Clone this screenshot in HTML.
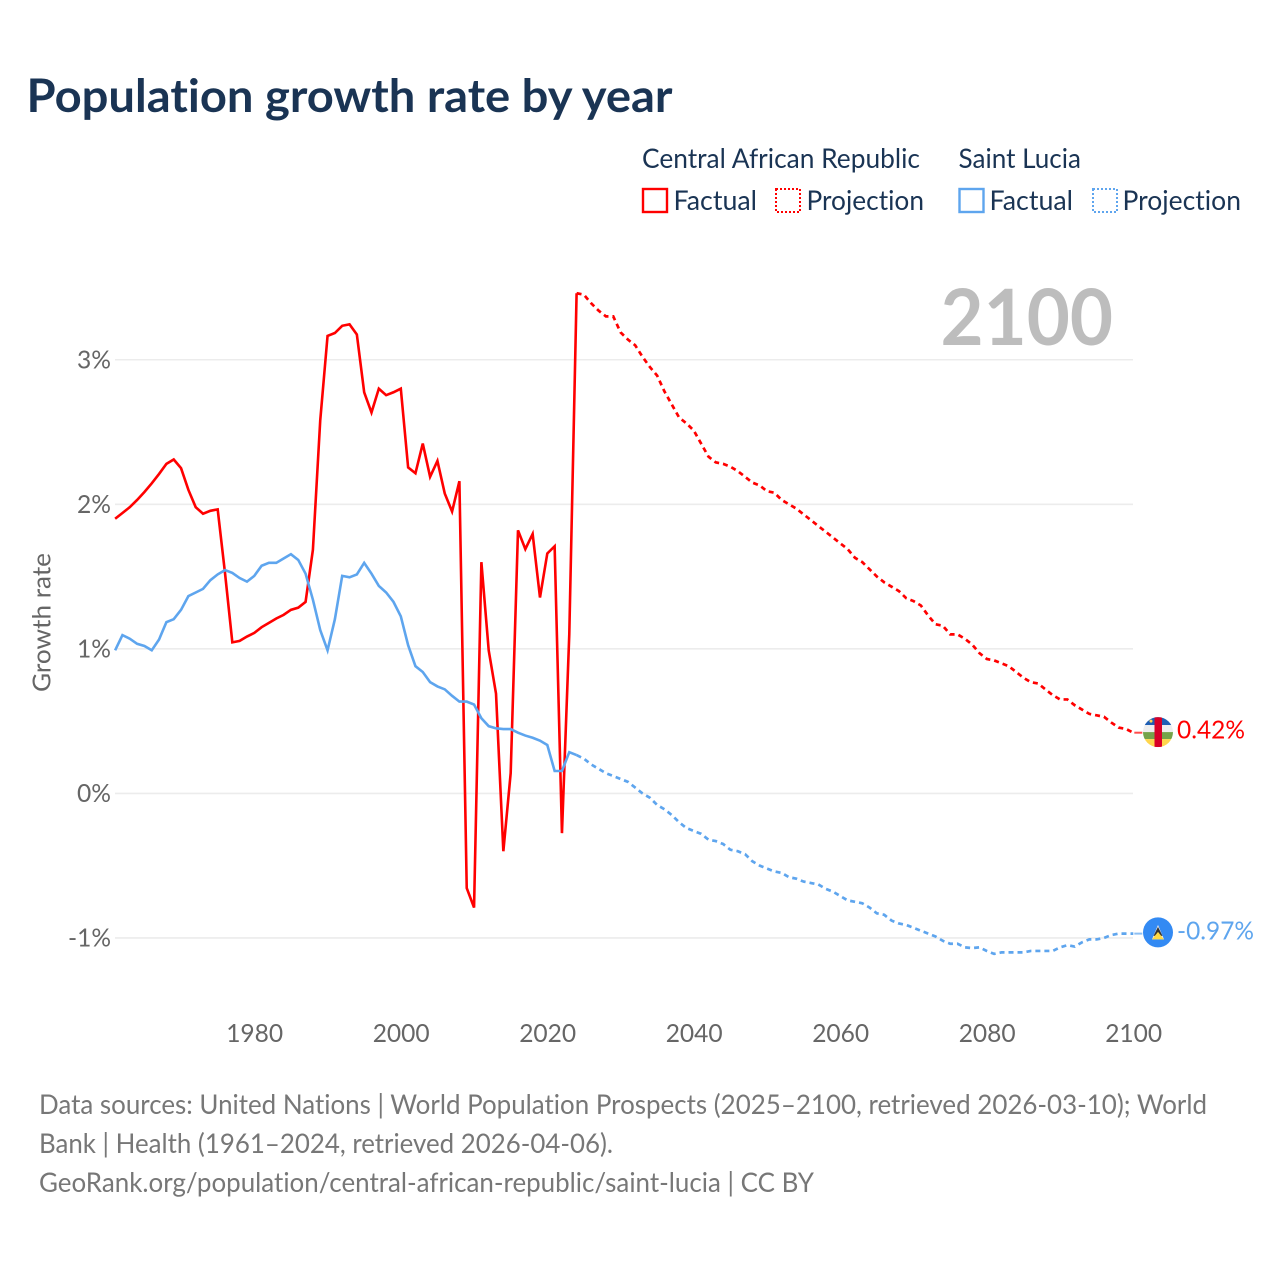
<!DOCTYPE html>
<html lang="en">
<head>
<meta charset="utf-8">
<title>Population growth rate by year</title>
<style>
html,body{margin:0;padding:0;background:#fff;width:1280px;height:1280px;overflow:hidden}
svg{display:block}
text{font-family:"Lato","Carlito","Liberation Sans",sans-serif;font-variant-ligatures:none}
</style>
</head>
<body>
<svg id="chart" xmlns="http://www.w3.org/2000/svg" width="1280" height="1280" viewBox="0 0 1280 1280">
  <rect width="1280" height="1280" fill="#fff"/>
  <text x="26.5" y="112" font-size="46" font-weight="700" fill="#1a3454" textLength="646" lengthAdjust="spacingAndGlyphs">Population growth rate by year</text>

  <g font-size="27" fill="#1a3454">
    <text x="642" y="168" textLength="278" lengthAdjust="spacingAndGlyphs">Central African Republic</text>
    <text x="958.5" y="168" textLength="122.5" lengthAdjust="spacingAndGlyphs">Saint Lucia</text>
    <rect x="643" y="189" width="24" height="23" fill="none" stroke="#ff0000" stroke-width="2.4"/>
    <text x="673.5" y="210" textLength="83.5" lengthAdjust="spacingAndGlyphs">Factual</text>
    <rect x="776" y="189" width="24" height="23" fill="none" stroke="#ff0000" stroke-width="2" stroke-dasharray="2 2"/>
    <text x="806.5" y="210" textLength="117.5" lengthAdjust="spacingAndGlyphs">Projection</text>
    <rect x="959.5" y="189" width="24" height="23" fill="none" stroke="#5ea5ee" stroke-width="2.4"/>
    <text x="989.5" y="210" textLength="83.5" lengthAdjust="spacingAndGlyphs">Factual</text>
    <rect x="1093" y="189" width="24" height="23" fill="none" stroke="#5ea5ee" stroke-width="2" stroke-dasharray="2 2"/>
    <text x="1122.5" y="210" textLength="118.5" lengthAdjust="spacingAndGlyphs">Projection</text>
  </g>

  <g id="grid"></g>
  <g id="yticks"></g>
  <g id="xticks"></g>
  <text transform="translate(50.5,622.5) rotate(-90)" text-anchor="middle" font-size="25" fill="#666" textLength="139" lengthAdjust="spacingAndGlyphs">Growth rate</text>

  <text x="940.5" y="345" font-size="78" font-weight="700" fill="#bdbdbd" textLength="172.5" lengthAdjust="spacingAndGlyphs">2100</text>

  <g id="series"></g>

  <defs>
    <clipPath id="flag-clip-car"><circle id="car-clip-circle" cx="1158" cy="732" r="15"/></clipPath>
  </defs>
  <g id="flag-car">
    <g clip-path="url(#flag-clip-car)">
      <rect x="1143" y="717" width="30" height="8" fill="#1f5fb4"/>
      <rect x="1143" y="725" width="30" height="7" fill="#eeeeee"/>
      <rect x="1143" y="732" width="30" height="7" fill="#75a34a"/>
      <rect x="1143" y="739" width="30" height="8" fill="#ffd64d"/>
      <rect x="1154.5" y="717" width="7.5" height="30" fill="#d80027"/>
      <circle cx="1151" cy="721" r="1.5" fill="#ffd64d"/>
    </g>
  </g>
  <g id="flag-lucia">
    <circle cx="1158" cy="932.5" r="15" fill="#338af3"/>
    <polygon points="1158,925 1164,939.5 1152,939.5" fill="#f0f0f0"/>
    <polygon points="1158,927 1162.5,936 1153.5,936" fill="#333333"/>
    <polygon points="1158,932 1164,939.5 1152,939.5" fill="#ffda44"/>
  </g>
  <text id="label-car" x="1177" y="738.5" font-size="25" fill="#ff0000" textLength="68" lengthAdjust="spacingAndGlyphs"></text>
  <text id="label-lucia" x="1177" y="939.5" font-size="25" fill="#5ea5ee" textLength="77" lengthAdjust="spacingAndGlyphs"></text>

  <g font-size="27" fill="#777">
    <text x="39" y="1114" textLength="1168" lengthAdjust="spacingAndGlyphs">Data sources: United Nations | World Population Prospects (2025–2100, retrieved 2026-03-10); World</text>
    <text x="39" y="1153" textLength="574" lengthAdjust="spacingAndGlyphs">Bank | Health (1961–2024, retrieved 2026-04-06).</text>
    <text x="39" y="1192" textLength="775" lengthAdjust="spacingAndGlyphs">GeoRank.org/population/central-african-republic/saint-lucia | CC BY</text>
  </g>
</svg>
<script>
const factualStartYear = 1961;
const projectionStartYear = 2024;
const yTickValues = [-1, 0, 1, 2, 3];
const yTickLabels = ['-1%', '0%', '1%', '2%', '3%'];
const xTickYears = [1980, 2000, 2020, 2040, 2060, 2080, 2100];
const carFactual = [1.90,1.94,1.98,2.03,2.085,2.145,2.21,2.28,2.31,2.25,2.10,1.98,1.935,1.955,1.965,1.525,1.045,1.055,1.085,1.11,1.15,1.18,1.21,1.235,1.27,1.285,1.325,1.685,2.58,3.165,3.185,3.235,3.245,3.175,2.775,2.635,2.80,2.755,2.775,2.80,2.255,2.215,2.42,2.19,2.30,2.075,1.95,2.16,-0.655,-0.79,1.60,0.99,0.69,-0.40,0.14,1.82,1.69,1.795,1.355,1.66,1.71,-0.275,1.10,3.46];
const luciaFactual = [0.99,1.095,1.07,1.035,1.02,0.99,1.065,1.185,1.205,1.27,1.365,1.39,1.415,1.475,1.515,1.545,1.525,1.49,1.465,1.505,1.575,1.595,1.595,1.625,1.655,1.615,1.52,1.34,1.13,0.99,1.205,1.505,1.495,1.515,1.595,1.52,1.435,1.39,1.325,1.225,1.025,0.88,0.84,0.77,0.74,0.72,0.675,0.635,0.635,0.615,0.52,0.465,0.45,0.445,0.445,0.42,0.40,0.385,0.365,0.335,0.155,0.155,0.285,0.265];
const carProjection = [3.46,3.45,3.39,3.34,3.30,3.30,3.19,3.14,3.10,3.02,2.95,2.89,2.78,2.69,2.60,2.56,2.51,2.42,2.33,2.29,2.28,2.26,2.23,2.19,2.15,2.13,2.09,2.08,2.03,2.00,1.97,1.93,1.89,1.85,1.81,1.77,1.73,1.69,1.63,1.60,1.55,1.50,1.46,1.43,1.40,1.35,1.33,1.30,1.23,1.17,1.16,1.10,1.10,1.07,1.03,0.97,0.93,0.92,0.90,0.88,0.84,0.80,0.77,0.76,0.72,0.68,0.65,0.65,0.61,0.58,0.55,0.54,0.53,0.49,0.455,0.446,0.42];
const luciaProjection = [0.265,0.24,0.20,0.17,0.14,0.12,0.10,0.08,0.04,0.00,-0.03,-0.08,-0.11,-0.15,-0.20,-0.24,-0.26,-0.28,-0.32,-0.33,-0.35,-0.39,-0.40,-0.42,-0.47,-0.50,-0.52,-0.54,-0.55,-0.58,-0.59,-0.61,-0.62,-0.63,-0.66,-0.68,-0.71,-0.74,-0.75,-0.76,-0.79,-0.83,-0.84,-0.88,-0.90,-0.91,-0.93,-0.95,-0.97,-0.99,-1.02,-1.04,-1.04,-1.065,-1.07,-1.065,-1.09,-1.11,-1.10,-1.10,-1.10,-1.10,-1.09,-1.09,-1.09,-1.09,-1.065,-1.05,-1.06,-1.03,-1.01,-1.01,-1.00,-0.98,-0.97,-0.97,-0.97];

const NS = 'http://www.w3.org/2000/svg';
const RED = '#ff0000';
const BLUE = '#5ea5ee';
const xScale = function (year) { return 254.3 + (year - 1980) * 7.325; };
const yScale = function (v) { return 793.4 - v * 144.55; };
const linePath = function (values, startYear) {
  return values.map(function (v, i) {
    return (i ? 'L' : 'M') + xScale(startYear + i).toFixed(2) + ' ' + yScale(v).toFixed(2);
  }).join('');
};

const grid = document.getElementById('grid');
const yticks = document.getElementById('yticks');
yTickValues.forEach(function (v, i) {
  const line = document.createElementNS(NS, 'line');
  
  
  line.setAttribute('x1', 115);
  line.setAttribute('x2', 1133);
  line.setAttribute('y1', yScale(v));
  line.setAttribute('y2', yScale(v));
  line.setAttribute('stroke', '#ececec');
  line.setAttribute('stroke-width', 1.6);
  grid.appendChild(line);
  const label = document.createElementNS(NS, 'text');
  
  
  label.setAttribute('x', 111);
  label.setAttribute('y', yScale(v) + 8.5);
  label.setAttribute('text-anchor', 'end');
  label.setAttribute('font-size', 25);
  label.setAttribute('fill', '#666');
  label.setAttribute('textLength', yTickLabels[i].length === 3 ? 43 : 34);
  label.setAttribute('lengthAdjust', 'spacingAndGlyphs');
  label.textContent = yTickLabels[i];
  yticks.appendChild(label);
});

const xticks = document.getElementById('xticks');
xTickYears.forEach(function (year) {
  const label = document.createElementNS(NS, 'text');
  
  
  label.setAttribute('x', xScale(year) + 0.4);
  label.setAttribute('y', 1042);
  label.setAttribute('text-anchor', 'middle');
  label.setAttribute('font-size', 25);
  label.setAttribute('fill', '#666');
  label.setAttribute('textLength', 57);
  label.setAttribute('lengthAdjust', 'spacingAndGlyphs');
  label.textContent = String(year);
  xticks.appendChild(label);
});

const series = document.getElementById('series');
const addSeries = function (name, values, startYear, color, dashed) {
  const path = document.createElementNS(NS, 'path');
  
  
  path.setAttribute('d', linePath(values, startYear));
  path.setAttribute('fill', 'none');
  path.setAttribute('stroke', color);
  path.setAttribute('stroke-width', dashed ? 2.7 : 2.6);
  if (dashed) path.setAttribute('stroke-dasharray', '5 4');
  series.appendChild(path);
};
addSeries('car-factual-line', carFactual, factualStartYear, RED, false);
addSeries('car-projection-line', carProjection, projectionStartYear, RED, true);
addSeries('saint-lucia-factual-line', luciaFactual, factualStartYear, BLUE, false);
addSeries('saint-lucia-projection-line', luciaProjection, projectionStartYear, BLUE, true);

const addConnector = function (name, value, color) {
  const line = document.createElementNS(NS, 'line');
  
  
  line.setAttribute('x1', xScale(2100) + 1);
  line.setAttribute('x2', xScale(2100) + 9);
  line.setAttribute('y1', yScale(value));
  line.setAttribute('y2', yScale(value));
  line.setAttribute('stroke', color);
  line.setAttribute('stroke-width', 2);
  line.setAttribute('opacity', 0.7);
  series.appendChild(line);
};
const carLast = carProjection[carProjection.length - 1];
const luciaLast = luciaProjection[luciaProjection.length - 1];
addConnector('car-end-connector', carLast, RED);
addConnector('saint-lucia-end-connector', luciaLast, BLUE);

document.getElementById('label-car').textContent = carLast.toFixed(2) + '%';
document.getElementById('label-lucia').textContent = luciaLast.toFixed(2) + '%';
document.getElementById('flag-car').setAttribute('transform', 'translate(0,' + (yScale(carLast) - 732.6).toFixed(2) + ')');
document.getElementById('flag-lucia').setAttribute('transform', 'translate(0,' + (yScale(luciaLast) - 933.7).toFixed(2) + ')');
</script>
</body>
</html>
